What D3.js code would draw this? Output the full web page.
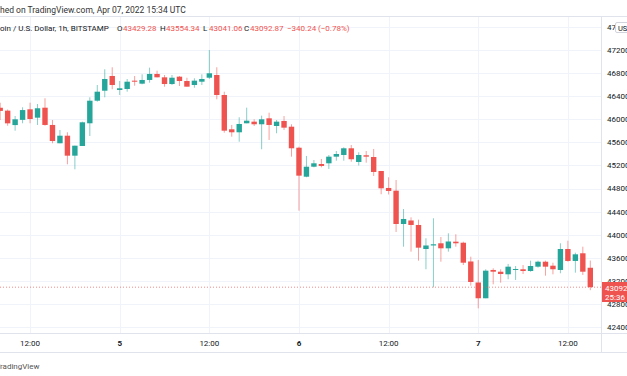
<!DOCTYPE html>
<html>
<head>
<meta charset="utf-8">
<script src="https://cdn.jsdelivr.net/npm/d3@7"></script>
<style>
  body { margin: 0; background: #fff; }
  svg { display: block; font-family: Roboto, "Noto Sans", sans-serif; }
</style>
</head>
<body>
<svg id="chart" width="627" height="376"></svg>
<script>
// hourly candles, BTCUSD Bitstamp, first candle Apr 4 08:00 UTC
const firstCandle = Date.UTC(2022, 3, 4, 8);
const open  = [46200, 46150, 45900, 45990, 46173, 46028, 46201, 45902, 45585, 45716,
               45370, 45538, 45931, 46322, 46495, 46750, 46508, 46525, 46669, 46617,
               46681, 46785, 46727, 46611, 46738, 46663, 46594, 46651, 46720, 46767,
               46421, 45827, 45775, 45931, 45959, 45914, 46017, 45884, 45971, 45872,
               45508, 45006, 45179, 45226, 45238, 45353, 45382, 45498, 45261, 45377,
               45347, 45105, 44811, 44764, 44187, 44248, 44170, 43754, 43815, 43853,
               43766, 43881, 43863, 43538, 43174, 42901, 43391, 43361, 43316, 43391,
               43403, 43373, 43448, 43534, 43465, 43391, 43754, 43547, 43680, 43429.28];
const high  = [46287, 46170, 46057, 46208, 46288, 46265, 46364, 45988, 45815, 45775,
               45543, 45959, 46381, 46594, 46866, 46901, 46663, 46698, 46750, 46779,
               46894, 46842, 46767, 46767, 46750, 46720, 46710, 46779, 47200, 46901,
               46478, 45902, 46035, 46201, 46000, 46063, 46114, 45988, 46057, 45914,
               45526, 45365, 45295, 45313, 45382, 45451, 45515, 45555, 45429, 45451,
               45486, 45105, 44996, 44949, 44447, 44303, 44262, 43940, 44286, 43962,
               44026, 44009, 43881, 43621, 43564, 43403, 43420, 43403, 43495, 43460,
               43477, 43552, 43552, 43552, 43517, 43853, 43898, 43690, 43794, 43554.34];
const low   = [45988, 45889, 45803, 45931, 45931, 45902, 45889, 45585, 45585, 45221,
               45134, 45538, 45711, 46305, 46381, 46520, 46421, 46478, 46582, 46606,
               46634, 46727, 46565, 46594, 46577, 46565, 46547, 46594, 46698, 46346,
               45768, 45699, 45612, 45931, 45884, 45481, 45642, 45758, 45815, 45353,
               44418, 44996, 45169, 45169, 45140, 45283, 45283, 45266, 45200, 45249,
               45018, 44702, 44698, 44049, 43794, 43708, 43552, 43403, 43088, 43534,
               43708, 43794, 43477, 43119, 42727, 42901, 43143, 43171, 43230, 43218,
               43321, 43361, 43431, 43292, 43316, 43334, 43534, 43344, 43304, 43041.06];
const close = [46145, 45930, 46000, 46160, 46005, 46191, 45902, 45624, 45716, 45370,
               45543, 45948, 46322, 46478, 46698, 46594, 46537, 46651, 46651, 46681,
               46785, 46727, 46611, 46720, 46663, 46565, 46669, 46698, 46797, 46421,
               45803, 45775, 45919, 45976, 45914, 46000, 45902, 45959, 45855, 45498,
               45024, 45179, 45238, 45192, 45353, 45399, 45498, 45308, 45382, 45353,
               45088, 44805, 44759, 44187, 44274, 44170, 43777, 43815, 43836, 43766,
               43884, 43853, 43517, 43183, 42901, 43379, 43361, 43321, 43448, 43408,
               43373, 43460, 43534, 43448, 43403, 43754, 43547, 43662, 43361, 43092.87];

const priceTicks = [42400, 42800, 43200, 43600, 44000, 44400, 44800, 45200, 45600, 46000, 46400, 46800, 47200, 47600];
const timeTicks = [Date.UTC(2022, 3, 4, 12), Date.UTC(2022, 3, 5), Date.UTC(2022, 3, 5, 12),
                   Date.UTC(2022, 3, 6), Date.UTC(2022, 3, 6, 12), Date.UTC(2022, 3, 7), Date.UTC(2022, 3, 7, 12)];
const timeLabels = ["12:00", "5", "12:00", "6", "12:00", "7", "12:00"];

const svg = d3.select("#chart");
const W = 627, H = 376;
const paneTop = 17, paneBottom = 333, axisX = 601, timeBottom = 352;
const up = "#26a69a", down = "#ef5350";

const x = d3.scaleTime()
  .domain([new Date(Date.UTC(2022, 3, 5)), new Date(Date.UTC(2022, 3, 7, 15))])
  .range([119.7, 590.3]);
const y = d3.scaleLinear()
  .domain([42400, 47200])
  .range([327.2, 50]);

const candles = open.map((o, i) => ({
  t: new Date(firstCandle + i * 3600e3),
  o: o, h: high[i], l: low[i], c: close[i]
}));

// grid
const grid = svg.append("g");
grid.selectAll("line.h")
  .data(priceTicks)
  .join("line")
  .attr("x1", 0).attr("x2", axisX)
  .attr("y1", d => Math.round(y(d)) + 0.5).attr("y2", d => Math.round(y(d)) + 0.5)
  .attr("stroke", "#f0f3fa");
grid.selectAll("line.v")
  .data(timeTicks)
  .join("line")
  .attr("x1", d => Math.round(x(d)) + 0.5).attr("x2", d => Math.round(x(d)) + 0.5)
  .attr("y1", paneTop).attr("y2", paneBottom)
  .attr("stroke", "#f0f3fa");

// candles
const bw = 5.4;
const cg = svg.append("g");
cg.selectAll("line")
  .data(candles)
  .join("line")
  .attr("x1", d => x(d.t)).attr("x2", d => x(d.t))
  .attr("y1", d => y(d.h)).attr("y2", d => y(d.l))
  .attr("stroke", d => d.c >= d.o ? up : down)
  .attr("stroke-opacity", 0.55)
  .attr("stroke-width", 1);
cg.selectAll("rect")
  .data(candles)
  .join("rect")
  .attr("x", d => x(d.t) - bw / 2)
  .attr("width", bw)
  .attr("y", d => y(Math.max(d.o, d.c)))
  .attr("height", d => Math.max(1, Math.abs(y(d.o) - y(d.c))))
  .attr("fill", d => d.c >= d.o ? up : down);

// last price dotted line
const last = candles[candles.length - 1];
svg.append("line")
  .attr("x1", 0).attr("x2", axisX)
  .attr("y1", y(last.c)).attr("y2", y(last.c))
  .attr("stroke", down).attr("stroke-opacity", 0.7)
  .attr("stroke-dasharray", "1,2");

// frame lines
svg.append("line").attr("x1", 0).attr("x2", W).attr("y1", paneTop - 0.5).attr("y2", paneTop - 0.5).attr("stroke", "#e0e3eb");
svg.append("line").attr("x1", 0).attr("x2", W).attr("y1", paneBottom + 0.5).attr("y2", paneBottom + 0.5).attr("stroke", "#e0e3eb");
svg.append("line").attr("x1", 0).attr("x2", W).attr("y1", timeBottom + 0.5).attr("y2", timeBottom + 0.5).attr("stroke", "#e0e3eb");
svg.append("line").attr("x1", axisX + 0.5).attr("x2", axisX + 0.5).attr("y1", paneTop).attr("y2", timeBottom).attr("stroke", "#e0e3eb");

// price axis
svg.append("g").selectAll("text")
  .data(priceTicks)
  .join("text")
  .attr("x", 607)
  .attr("y", d => y(d))
  .attr("dy", "0.35em")
  .attr("font-size", 8)
  .attr("fill", "#131722")
  .text(d => d);

// USD badge
svg.append("rect").attr("x", 615.5).attr("y", 22.5).attr("width", 20).attr("height", 10)
  .attr("rx", 1.5).attr("fill", "#fff").attr("stroke", "#d1d4dc");
svg.append("text").attr("x", 618).attr("y", 30.5).attr("font-size", 7.5).attr("fill", "#131722").text("USD");

// last price badge
svg.append("rect").attr("x", axisX + 1).attr("y", 282).attr("width", W - axisX).attr("height", 20).attr("fill", down);
svg.append("text").attr("x", 605).attr("y", 290.5).attr("font-size", 8).attr("fill", "#fff").text(last.c.toFixed(2));
svg.append("text").attr("x", 605).attr("y", 300).attr("font-size", 8).attr("fill", "#fff").text("25:36");

// time axis
svg.append("g").selectAll("text")
  .data(timeTicks)
  .join("text")
  .attr("x", d => x(d))
  .attr("y", 346)
  .attr("text-anchor", "middle")
  .attr("font-size", 8)
  .attr("font-weight", (d, i) => timeLabels[i].length === 1 ? "bold" : "normal")
  .attr("fill", "#131722")
  .text((d, i) => timeLabels[i]);

// text cut off at the left edge
function clipped(str, cut, yy, size, fill) {
  const t = svg.append("text").attr("y", yy).attr("font-size", size).attr("fill", fill).text(str);
  t.attr("x", -t.node().getSubStringLength(0, cut));
  return t;
}
clipped("Published on TradingView.com, Apr 07, 2022 15:34 UTC", 6, 12.5, 8.5, "#333");
clipped("TradingView", 1, 369, 8, "#555");

// legend row
const fs = 8;
clipped("Bitcoin / U.S. Dollar, 1h, BITSTAMP", 4, 31, fs, "#131722");
const legendKeys = [["O", open, 117], ["H", high, 160], ["L", low, 203], ["C", close, 244]];
legendKeys.forEach(([k, arr, lx]) => {
  svg.append("text").attr("x", lx).attr("y", 31).attr("font-size", fs).attr("fill", "#131722").text(k);
  svg.append("text").attr("x", lx + 6).attr("y", 31).attr("font-size", fs).attr("fill", down)
    .text(arr[arr.length - 1].toFixed(2));
});
svg.append("text").attr("x", 287).attr("y", 31).attr("font-size", fs).attr("fill", down)
  .text("\u2212340.24");
svg.append("text").attr("x", 318).attr("y", 31).attr("font-size", fs).attr("fill", down)
  .text("(\u22120.78%)");
</script>
</body>
</html>
